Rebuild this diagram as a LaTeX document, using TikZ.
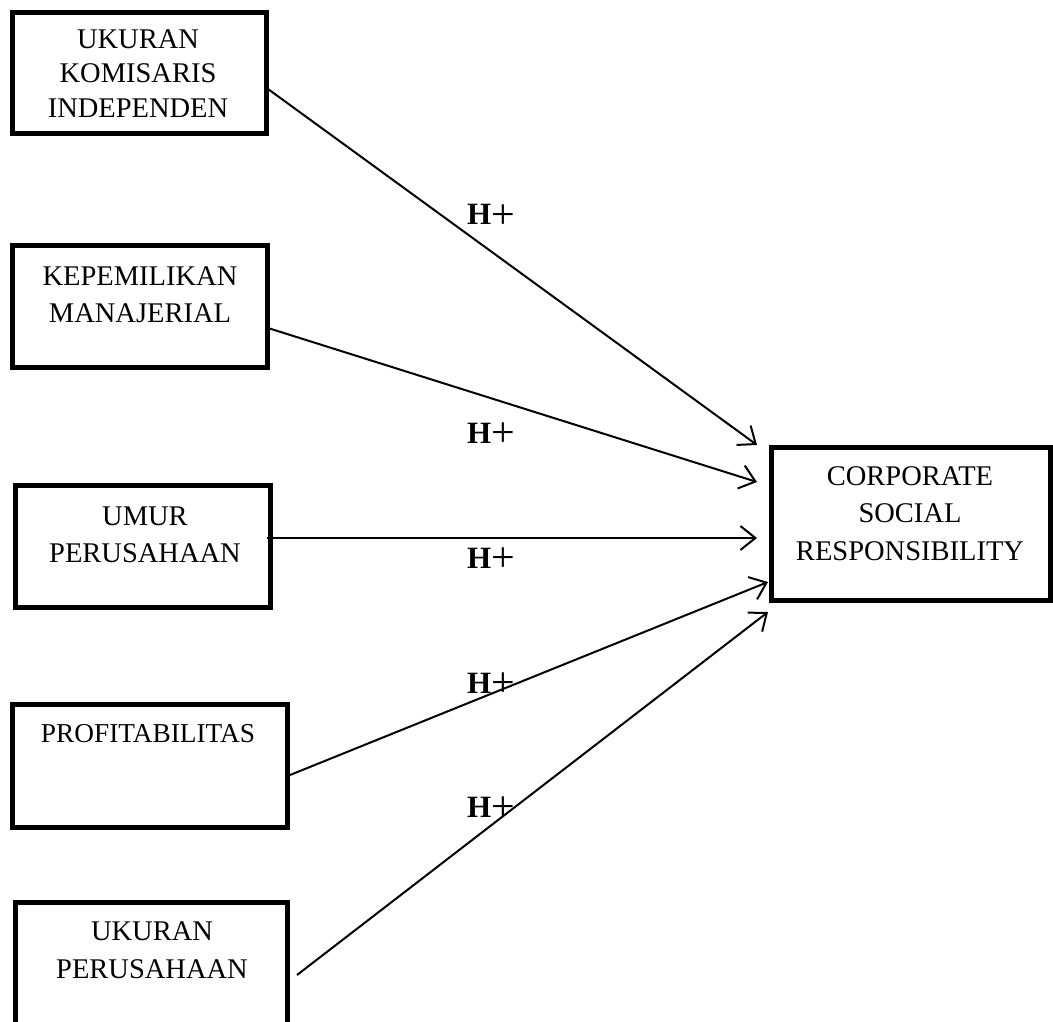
\documentclass[tikz,border=0pt]{standalone}
\usepackage{fontspec}
\setmainfont{Liberation Serif}
\usetikzlibrary{arrows.meta}
\newcommand{\hplus}{\textbf{H}\raisebox{-3.5pt}{\fontsize{42}{42}\selectfont+}}
\begin{document}
\begin{tikzpicture}[x=1pt,y=-1pt,
  box/.style={draw,line width=5pt,rectangle,inner sep=0pt,outer sep=0pt},
  lbl/.style={align=center,anchor=base,inner sep=0pt},
  hyp/.style={font=\fontsize{31}{36}\selectfont,inner sep=0pt,anchor=base},
  arr/.style={line width=2pt,-{Straight Barb[length=15pt,width=24pt,line width=2pt]}}]
\clip (0,0) rectangle (1053,1022);
\fill[white] (0,0) rectangle (1053,1022);
% boxes
\node[box,minimum width=253.5pt,minimum height=121.5pt] (b1) at (139.25,73.25) {};
\node[box,minimum width=255pt,minimum height=122pt] (b2) at (140,306.5) {};
\node[box,minimum width=255pt,minimum height=122.5pt] (b3) at (143,546.25) {};
\node[box,minimum width=275pt,minimum height=123pt] (b4) at (150,766) {};
\node[box,minimum width=272pt,minimum height=137.5pt] (b5) at (151.5,971.25) {};
\node[box,minimum width=279.5pt,minimum height=153pt] (csr) at (910.75,524) {};
% texts (anchor = baseline of last line)
\node[lbl,font=\fontsize{28.5}{35}\selectfont] (t1) at (138,118) {UKURAN\\KOMISARIS\\INDEPENDEN};
\node[lbl,font=\fontsize{28.5}{37}\selectfont] (t2) at (140,322) {KEPEMILIKAN\\MANAJERIAL};
\node[lbl,font=\fontsize{28.5}{37}\selectfont] (t3) at (145,562) {UMUR\\PERUSAHAAN};
\node[lbl,font=\fontsize{27.3}{37}\selectfont] (t4) at (148,742) {PROFITABILITAS};
\node[lbl,font=\fontsize{28.5}{38}\selectfont] (t5) at (152,978) {UKURAN\\PERUSAHAAN};
\node[lbl,font=\fontsize{28.5}{37.5}\selectfont] (tc) at (910,560) {CORPORATE\\SOCIAL\\RESPONSIBILITY};
% arrows
\draw[arr] ([xshift=2pt,yshift=-15.75pt]b1.east) -- ([xshift=-14pt,yshift=79pt]csr.west);
\draw[arr] ([xshift=0.5pt,yshift=-21.5pt]b2.east) -- ([xshift=-14pt,yshift=42pt]csr.west);
\draw[arr] ([xshift=-3.5pt,yshift=8.25pt]b3.east) -- ([xshift=-14pt,yshift=-14pt]csr.west);
\draw[arr] ([xshift=2.5pt,yshift=-9pt]b4.east) -- ([xshift=-3pt,yshift=-58pt]csr.west);
\draw[arr] ([xshift=9.5pt,yshift=-3.75pt]b5.east) -- ([xshift=-3pt,yshift=-88pt]csr.west);
% hypothesis labels (anchor = baseline)
\node[hyp] (h1) at (491,225) {\hplus};
\node[hyp] (h2) at (491,443) {\hplus};
\node[hyp] (h3) at (491,568) {\hplus};
\node[hyp] (h4) at (491,693) {\hplus};
\node[hyp] (h5) at (491,817) {\hplus};
\end{tikzpicture}
\end{document}
